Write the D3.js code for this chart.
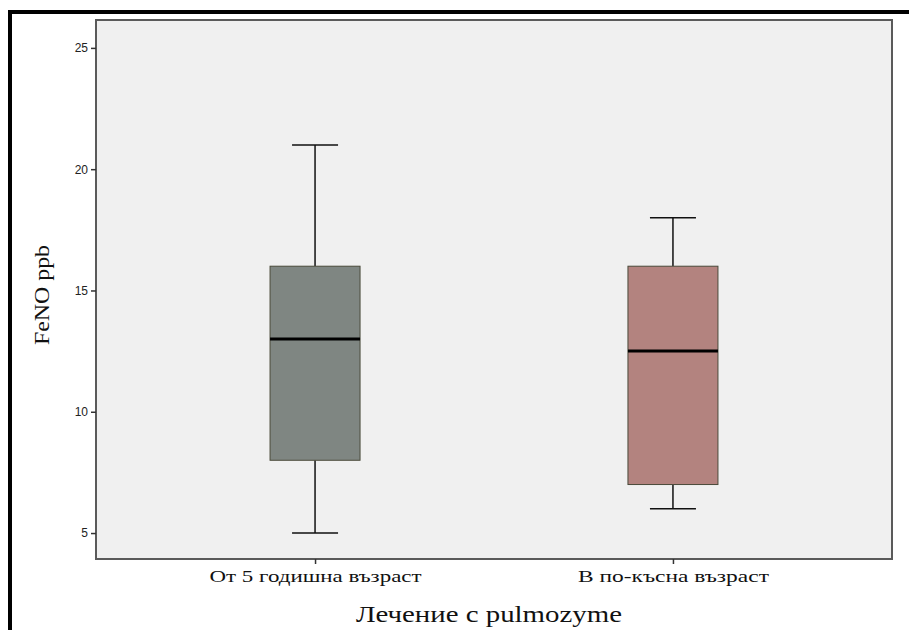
<!DOCTYPE html>
<html>
<head>
<meta charset="utf-8">
<script src="https://cdn.jsdelivr.net/npm/d3@7"></script>
<style>
  html, body { margin: 0; padding: 0; background: #fff; }
  svg { display: block; }
</style>
</head>
<body>
<svg id="chart" width="909" height="630"></svg>
<script>
// Group labels and five-number summaries (FeNO, ppb)
const categories = ["От 5 годишна възраст", "В по-късна възраст"];
const lowWhisker = [5, 6];
const q1 = [8, 7];
const median = [13, 12.5];
const q3 = [16, 16];
const highWhisker = [21, 18];
const boxColors = ["#7f8682", "#b3837f"];
const yTicks = [5, 10, 15, 20, 25];

const svg = d3.select("#chart");
const W = 909, H = 630;

// Frame lines along the top and left edges
svg.append("rect").attr("x", 8).attr("y", 10).attr("width", W - 8).attr("height", 4).attr("fill", "#000");
svg.append("rect").attr("x", 8).attr("y", 10).attr("width", 4).attr("height", H - 10).attr("fill", "#000");

const plot = { left: 96, right: 892, top: 20, bottom: 559 };

const y = d3.scaleLinear()
  .domain([3.93, 26.15])
  .range([plot.bottom, plot.top]);

const x = d3.scalePoint()
  .domain(categories)
  .range([plot.left, plot.right])
  .padding(0.612);

// Plot background
svg.append("rect")
  .attr("x", plot.left).attr("y", plot.top)
  .attr("width", plot.right - plot.left).attr("height", plot.bottom - plot.top)
  .attr("fill", "#f0f0f0")
  .attr("stroke", "#5a5a5a").attr("stroke-width", 2);

// Y axis
const yAxis = svg.append("g")
  .attr("transform", `translate(${plot.left},0)`)
  .call(d3.axisLeft(y).tickValues(yTicks).tickSize(5).tickPadding(3));
yAxis.select(".domain").remove();
yAxis.selectAll(".tick line").attr("stroke", "#333").attr("stroke-width", 1.5);
yAxis.selectAll(".tick text")
  .attr("fill", "#222")
  .style("font-family", "Arial, 'Liberation Sans', sans-serif")
  .style("font-size", "12px");

// X axis; the category labels are set in a wide serif face
const xAxis = svg.append("g")
  .attr("transform", `translate(0,${plot.bottom})`)
  .call(d3.axisBottom(x).tickSize(5).tickPadding(4));
xAxis.select(".domain").remove();
xAxis.selectAll(".tick line").attr("stroke", "#333").attr("stroke-width", 1.5);
xAxis.selectAll(".tick text")
  .attr("fill", "#111")
  .attr("dy", "0.85em")
  .style("font-family", "'Liberation Serif', 'Times New Roman', serif")
  .style("font-size", "17px")
  .attr("textLength", d => d.length * 10.6)
  .attr("lengthAdjust", "spacingAndGlyphs");

// Axis titles
svg.append("text")
  .attr("x", 489).attr("y", 622)
  .attr("text-anchor", "middle")
  .style("font-family", "'Liberation Serif', 'Times New Roman', serif")
  .style("font-size", "23px")
  .attr("textLength", 266)
  .attr("lengthAdjust", "spacingAndGlyphs")
  .attr("fill", "#111")
  .text("Лечение с pulmozyme");

svg.append("text")
  .attr("transform", "translate(49,295) rotate(-90)")
  .attr("text-anchor", "middle")
  .style("font-family", "'Liberation Serif', 'Times New Roman', serif")
  .style("font-size", "22px")
  .attr("textLength", 100)
  .attr("lengthAdjust", "spacingAndGlyphs")
  .attr("fill", "#111")
  .text("FeNO ppb");

// Box plots
const boxW = 90, capW = 46;
const data = categories.map((c, i) => ({
  c, lo: lowWhisker[i], q1: q1[i], med: median[i], q3: q3[i], hi: highWhisker[i], color: boxColors[i]
}));

const g = svg.append("g").selectAll("g").data(data).join("g")
  .attr("transform", d => `translate(${x(d.c)},0)`);

// whiskers
g.append("line").attr("x1", 0).attr("x2", 0)
  .attr("y1", d => y(d.hi)).attr("y2", d => y(d.q3))
  .attr("stroke", "#111").attr("stroke-width", 1.5);
g.append("line").attr("x1", 0).attr("x2", 0)
  .attr("y1", d => y(d.q1)).attr("y2", d => y(d.lo))
  .attr("stroke", "#111").attr("stroke-width", 1.5);
g.append("line").attr("x1", -capW / 2).attr("x2", capW / 2)
  .attr("y1", d => y(d.hi)).attr("y2", d => y(d.hi))
  .attr("stroke", "#111").attr("stroke-width", 1.5);
g.append("line").attr("x1", -capW / 2).attr("x2", capW / 2)
  .attr("y1", d => y(d.lo)).attr("y2", d => y(d.lo))
  .attr("stroke", "#111").attr("stroke-width", 1.5);

// boxes
g.append("rect")
  .attr("x", -boxW / 2).attr("width", boxW)
  .attr("y", d => y(d.q3)).attr("height", d => y(d.q1) - y(d.q3))
  .attr("fill", d => d.color)
  .attr("stroke", "#4a4a3a").attr("stroke-width", 1);

// medians
g.append("line").attr("x1", -boxW / 2).attr("x2", boxW / 2)
  .attr("y1", d => y(d.med)).attr("y2", d => y(d.med))
  .attr("stroke", "#000").attr("stroke-width", 3);
</script>
</body>
</html>
